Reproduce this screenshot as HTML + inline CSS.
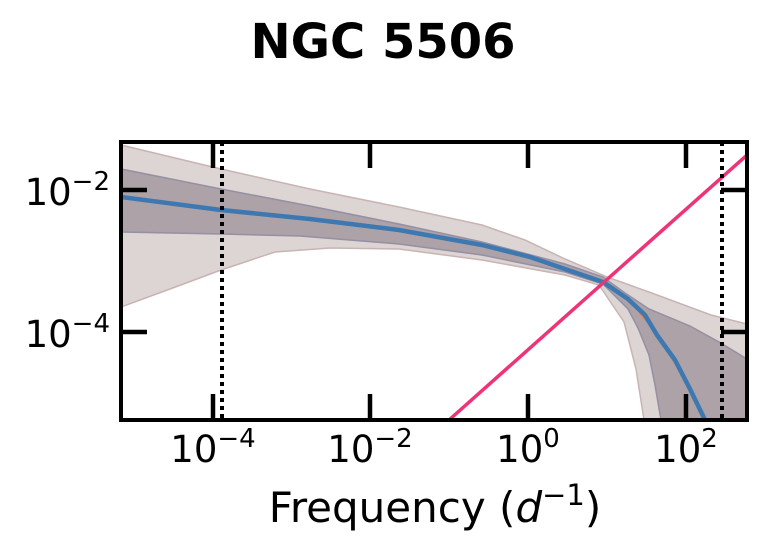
<!DOCTYPE html><html><head><style>body{margin:0;background:#fff}</style></head><body>
<svg width="766" height="553" xmlns="http://www.w3.org/2000/svg" font-family="DejaVu Sans, Liberation Sans, sans-serif">
<text x="383" y="58" font-size="48" font-weight="bold" text-anchor="middle">NGC 5506</text>
<defs><clipPath id="c"><rect x="121" y="142" width="626" height="278"/></clipPath></defs>
<g clip-path="url(#c)">
<polygon fill="#ddd4d4" stroke="#c9b4b4" stroke-width="1.5" points="121,145 221,169 310,189 399,207 482,225 525,240 565,259 607,277 649,292 711,315 747,324 747,440 644,440 644,420 636,369 624,322 599,285 565,275 482,260 399,249 330,248 275,252 221,270 170,289 121,307"/>
<polygon fill="#aca2a7" stroke="#9590a2" stroke-width="1.5" points="121,169 221,189 310,206 399,224 482,242 565,264 603,277 625,293 649,309 690,326 719,342 747,359 747,440 661,440 661,420 655,385 649,355 638,328 628,309 603,284 565,272 482,255 399,244 300,236 221,234 121,232"/>
<polyline fill="none" stroke="#e07b39" stroke-width="1.5" points="121,196 221,209 399,229 482,244 565,268 603,281 628,298 657,334 690,388 705,420"/>
<polyline fill="none" stroke="#3d78b0" stroke-width="4.5" stroke-linejoin="round" points="121,197 221,210 310,219 399,230 482,245 530,257 565,269 603,282 628,299 645,315 657,335 675,360 690,389 705,420"/>
<line x1="449" y1="420" x2="747" y2="155" stroke="#ee3377" stroke-width="3.5"/>
<line x1="222" y1="142" x2="222" y2="420" stroke="#000" stroke-width="4" stroke-dasharray="4,4"/>
<line x1="722" y1="142" x2="722" y2="420" stroke="#000" stroke-width="4" stroke-dasharray="4,4"/>
</g>
<rect x="121" y="142" width="626" height="278" fill="none" stroke="#000" stroke-width="4"/>
<g stroke="#000" stroke-width="4.5">
<line x1="213" y1="420" x2="213" y2="394"/><line x1="370" y1="420" x2="370" y2="394"/><line x1="528" y1="420" x2="528" y2="394"/><line x1="686" y1="420" x2="686" y2="394"/>
<line x1="213" y1="142" x2="213" y2="168"/><line x1="370" y1="142" x2="370" y2="168"/><line x1="528" y1="142" x2="528" y2="168"/><line x1="686" y1="142" x2="686" y2="168"/>
<line x1="121" y1="190" x2="147" y2="190"/><line x1="121" y1="332" x2="147" y2="332"/>
<line x1="747" y1="190" x2="721" y2="190"/><line x1="747" y1="332" x2="721" y2="332"/>
</g>
<g font-size="37">
<text x="110" y="205" text-anchor="end">10<tspan font-size="26" dy="-15">−2</tspan></text>
<text x="110" y="347" text-anchor="end">10<tspan font-size="26" dy="-15">−4</tspan></text>
<text x="213" y="462" text-anchor="middle">10<tspan font-size="26" dy="-15">−4</tspan></text>
<text x="370" y="462" text-anchor="middle">10<tspan font-size="26" dy="-15">−2</tspan></text>
<text x="528" y="462" text-anchor="middle">10<tspan font-size="26" dy="-15">0</tspan></text>
<text x="686" y="462" text-anchor="middle">10<tspan font-size="26" dy="-15">2</tspan></text>
</g>
<text x="435" y="522" text-anchor="middle" font-size="42">Frequency (<tspan font-style="italic">d</tspan><tspan font-size="29" dy="-17">−1</tspan><tspan dy="17">)</tspan></text>
</svg></body></html>
